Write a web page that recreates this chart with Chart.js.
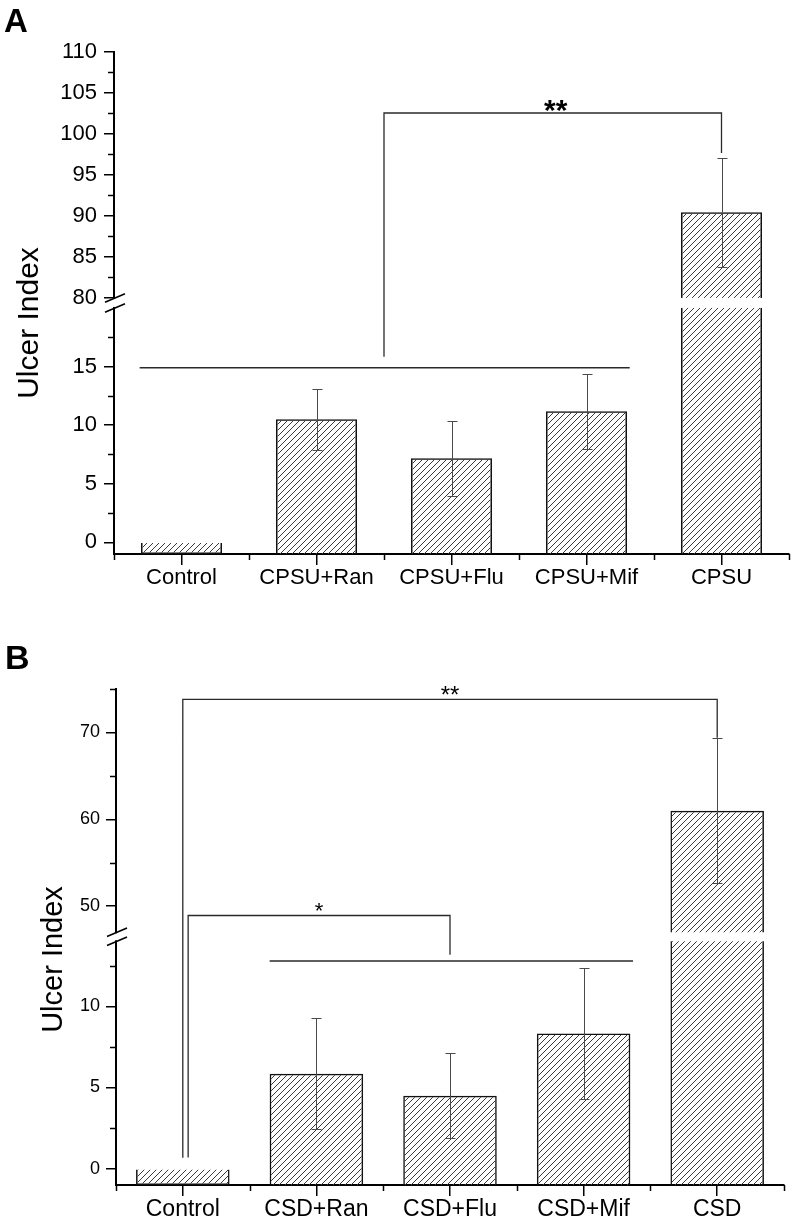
<!DOCTYPE html>
<html><head><meta charset="utf-8">
<script src="https://cdn.jsdelivr.net/npm/chart.js@4.4.1/dist/chart.umd.min.js"></script>
<style>
html,body{margin:0;padding:0;background:#fff;width:795px;height:1225px;overflow:hidden;}
#wrapA{position:absolute;left:0;top:0;width:795px;height:612px;}
#wrapB{position:absolute;left:0;top:612px;width:795px;height:613px;}
canvas{display:block;}
</style></head><body>
<div id="wrapA"><canvas id="chartA" width="795" height="612"></canvas></div>
<div id="wrapB"><canvas id="chartB" width="795" height="613"></canvas></div>
<script>
// ---------- Data: panel A ----------
const categoriesA = ['Control', 'CPSU+Ran', 'CPSU+Flu', 'CPSU+Mif', 'CPSU'];
const meansA = [0, 10.5, 7.17, 11.18, 90.45];
const errorsA = [0, 2.6, 3.2, 3.2, 6.67];
const majorTicksA = [0, 5, 10, 15, 80, 85, 90, 95, 100, 105, 110];
const minorTicksA = [2.5, 7.5, 12.5, 17.5, 82.5, 87.5, 92.5, 97.5, 102.5, 107.5];
const titleA = 'Ulcer Index';
// ---------- Data: panel B ----------
const categoriesB = ['Control', 'CSD+Ran', 'CSD+Flu', 'CSD+Mif', 'CSD'];
const meansB = [0, 5.85, 4.5, 8.33, 61.0];
const errorsB = [0, 3.43, 2.6, 4.05, 8.35];
const majorTicksB = [0, 5, 10, 50, 60, 70];
const minorTicksB = [2.5, 7.5, 12.5, 55, 65, 75];
const titleB = 'Ulcer Index';
// significance annotations (category index, value)
const sigLinesA = [{x1: -0.31, x2: 3.32, y: 14.9}];
const sigBracketsA = [{xa: 1.5, ya: 15.84, xb: 4, yb: 97.68, top: 102.56, label: '**'}];
const sigLinesB = [{x1: 0.65, x2: 3.37, y: 12.78}];
const sigBracketsB = [
  {xa: 0, ya: 0.68, xb: 4, yb: 69.38, top: 73.8, label: '**'},
  {xa: 0.04, ya: 0.69, xb: 2, yb: 13.17, top: 48.93, label: '*'}
];

const FONT = '"Liberation Sans", Arial, Helvetica, sans-serif';

function makeHatch(ctx) {
  const c = document.createElement('canvas');
  c.width = 6; c.height = 6;
  const g = c.getContext('2d');
  g.strokeStyle = '#3a3a3a'; g.lineWidth = 1;
  g.beginPath();
  g.moveTo(0, 6); g.lineTo(6, 0);
  g.moveTo(-1, 1); g.lineTo(1, -1);
  g.moveTo(5, 7); g.lineTo(7, 5);
  g.stroke();
  return ctx.createPattern(c, 'repeat');
}

function buildChart(canvasId, cfg) {
  const ctx = document.getElementById(canvasId).getContext('2d');
  const T = v => v <= cfg.lowMax ? v : cfg.lowMax + cfg.gap + (v - cfg.highMin) * cfg.ratio;
  const pattern = makeHatch(ctx);

  const decor = {
    id: 'decor_' + canvasId,
    afterDatasetsDraw(chart) {
      const c = chart.ctx, xs = chart.scales.x, ys = chart.scales.y;
      const meta = chart.getDatasetMeta(0);
      const yHi = ys.getPixelForValue(T(cfg.highMin));
      const yLo = ys.getPixelForValue(T(cfg.lowMax));
      c.save();
      // white gap through broken bars
      meta.data.forEach((bar, i) => {
        if (cfg.means[i] > cfg.lowMax) {
          c.fillStyle = '#fff';
          c.fillRect(bar.x - bar.width / 2 - 3, yHi, bar.width + 6, yLo - yHi);
        }
      });
      // error bars
      c.strokeStyle = '#4a4a4a'; c.lineWidth = 1;
      meta.data.forEach((bar, i) => {
        const e = cfg.errors[i];
        if (!e) return;
        const x = Math.round(bar.x) + 0.5;
        const y1 = Math.round(ys.getPixelForValue(T(cfg.means[i] + e))) + 0.5;
        const y2 = Math.round(ys.getPixelForValue(T(cfg.means[i] - e))) + 0.5;
        c.beginPath();
        c.moveTo(x, y1); c.lineTo(x, y2);
        c.moveTo(x - 5, y1); c.lineTo(x + 5, y1);
        c.moveTo(x - 5, y2); c.lineTo(x + 5, y2);
        c.stroke();
      });
      // significance lines
      c.strokeStyle = '#2a2a2a'; c.lineWidth = 1.5;
      cfg.lines.forEach(l => {
        const y = ys.getPixelForValue(T(l.y));
        c.beginPath();
        c.moveTo(xs.getPixelForValue(l.x1), y);
        c.lineTo(xs.getPixelForValue(l.x2), y);
        c.stroke();
      });
      c.lineWidth = 1.3;
      cfg.brackets.forEach(b => {
        const xa = xs.getPixelForValue(b.xa), xb = xs.getPixelForValue(b.xb);
        const yt = ys.getPixelForValue(T(b.top));
        c.beginPath();
        c.moveTo(xa, ys.getPixelForValue(T(b.ya)));
        c.lineTo(xa, yt);
        c.lineTo(xb, yt);
        c.lineTo(xb, ys.getPixelForValue(T(b.yb)));
        c.stroke();
        c.fillStyle = '#000';
        const fs = b.label.length > 1 ? cfg.starSize : cfg.starSize1;
        c.font = (cfg.starBold ? 'bold ' : '') + fs + 'px ' + FONT;
        c.textAlign = 'center'; c.textBaseline = 'alphabetic';
        c.fillText(b.label, (xa + xb) / 2 + cfg.starDx, yt - 10 + 0.57 * fs);
      });
      c.restore();
    },
    afterDraw(chart) {
      const c = chart.ctx, xs = chart.scales.x, ys = chart.scales.y;
      const area = chart.chartArea;
      const yHi = ys.getPixelForValue(T(cfg.highMin));
      const yLo = ys.getPixelForValue(T(cfg.lowMax));
      const ax = area.left;
      c.save();
      // axis break
      c.fillStyle = '#fff';
      c.fillRect(ax - 3, yHi + 1, 6, yLo - yHi - 2);
      c.strokeStyle = '#000'; c.lineWidth = 1.6;
      [yHi, yLo].forEach(y => {
        c.beginPath();
        c.moveTo(ax - 9, y + 4.2);
        c.lineTo(ax + 11, y - 4.2);
        c.stroke();
      });
      // minor ticks
      c.lineWidth = 1.5;
      cfg.minorTicks.forEach(v => {
        const y = Math.round(ys.getPixelForValue(T(v))) + 0.5;
        c.beginPath(); c.moveTo(ax - 6, y); c.lineTo(ax, y); c.stroke();
      });
      for (let i = 0; i <= cfg.categories.length; i++) {
        const x = Math.round(xs.getPixelForValue(i - 0.5)) + 0.5;
        c.beginPath(); c.moveTo(x, area.bottom); c.lineTo(x, area.bottom + 6); c.stroke();
      }
      // y title
      c.fillStyle = '#000';
      c.font = cfg.titleSize + 'px ' + FONT;
      c.translate(cfg.titleX, cfg.titleY);
      c.rotate(-Math.PI / 2);
      c.textAlign = 'center'; c.textBaseline = 'alphabetic';
      c.fillText(cfg.title, 0, 0);
      c.setTransform(1, 0, 0, 1, 0, 0);
      // panel label
      c.font = 'bold ' + cfg.panelSize + 'px ' + FONT;
      c.textAlign = 'left';
      c.fillText(cfg.panel, cfg.panelX, cfg.panelY);
      c.restore();
    }
  };

  return new Chart(ctx, {
    type: 'bar',
    data: {
      labels: cfg.categories,
      datasets: [{
        data: cfg.means.map(v => [T(cfg.min), T(v)]),
        backgroundColor: pattern,
        borderColor: '#111',
        borderWidth: 1.5,
        borderSkipped: 'start',
        barPercentage: cfg.barPct,
        categoryPercentage: 1.0
      }]
    },
    options: {
      responsive: false,
      animation: false,
      devicePixelRatio: 1,
      layout: {padding: {left: 0, top: cfg.padTop, right: cfg.padRight, bottom: cfg.padBottom}},
      plugins: {legend: {display: false}, tooltip: {enabled: false}},
      scales: {
        x: {
          type: 'category',
          offset: true,
          grid: {display: true, drawOnChartArea: false, drawTicks: true, tickLength: 11, offset: false, color: '#000', lineWidth: 1.5},
          border: {display: true, color: '#000', width: 2},
          ticks: {color: '#000', font: {family: FONT, size: cfg.xFont}, padding: 0, maxRotation: 0, autoSkip: false},
          afterFit(s) { s.height = cfg.xHeight; }
        },
        y: {
          type: 'linear',
          min: T(cfg.min),
          max: T(cfg.max),
          grid: {display: true, drawOnChartArea: false, drawTicks: true, tickLength: 10, color: '#000', lineWidth: 1.5},
          border: {display: true, color: '#000', width: 2},
          ticks: {
            color: '#000', font: {family: FONT, size: cfg.yFont}, padding: cfg.yPad, autoSkip: false,
            callback: (v, i) => String(cfg.majorTicks[i])
          },
          afterBuildTicks(s) { s.ticks = cfg.majorTicks.map(v => ({value: T(v)})); },
          afterFit(s) { s.width = cfg.yWidth; }
        }
      }
    },
    plugins: [decor]
  });
}

buildChart('chartA', {
  categories: categoriesA, means: meansA, errors: errorsA,
  majorTicks: majorTicksA, minorTicks: minorTicksA,
  lines: sigLinesA, brackets: sigBracketsA,
  min: -1, lowMax: 20, highMin: 80, max: 110, ratio: 8.2 / 11.72, gap: 10 / 11.72,
  barPct: 0.6, xFont: 22, yFont: 22, yPad: 7,
  padTop: 52, padRight: 6, padBottom: 8, xHeight: 50, yWidth: 114,
  starBold: true, starSize: 30, starSize1: 30, starDx: 3,
  title: titleA, titleSize: 30, titleX: 38, titleY: 323,
  panel: 'A', panelSize: 33, panelX: 4, panelY: 32
});

buildChart('chartB', {
  categories: categoriesB, means: meansB, errors: errorsB,
  majorTicks: majorTicksB, minorTicks: minorTicksB,
  lines: sigLinesB, brackets: sigBracketsB,
  min: -1, lowMax: 14, highMin: 47, max: 75, ratio: 8.7 / 16.27, gap: 9 / 16.27,
  barPct: 0.7, xFont: 23, yFont: 18, yPad: 6,
  padTop: 77, padRight: 11, padBottom: 5, xHeight: 35, yWidth: 116,
  starBold: false, starSize: 24, starSize1: 22, starDx: 0,
  title: titleB, titleSize: 29, titleX: 62, titleY: 347.5,
  panel: 'B', panelSize: 34, panelX: 5, panelY: 57
});
</script>
</body></html>
